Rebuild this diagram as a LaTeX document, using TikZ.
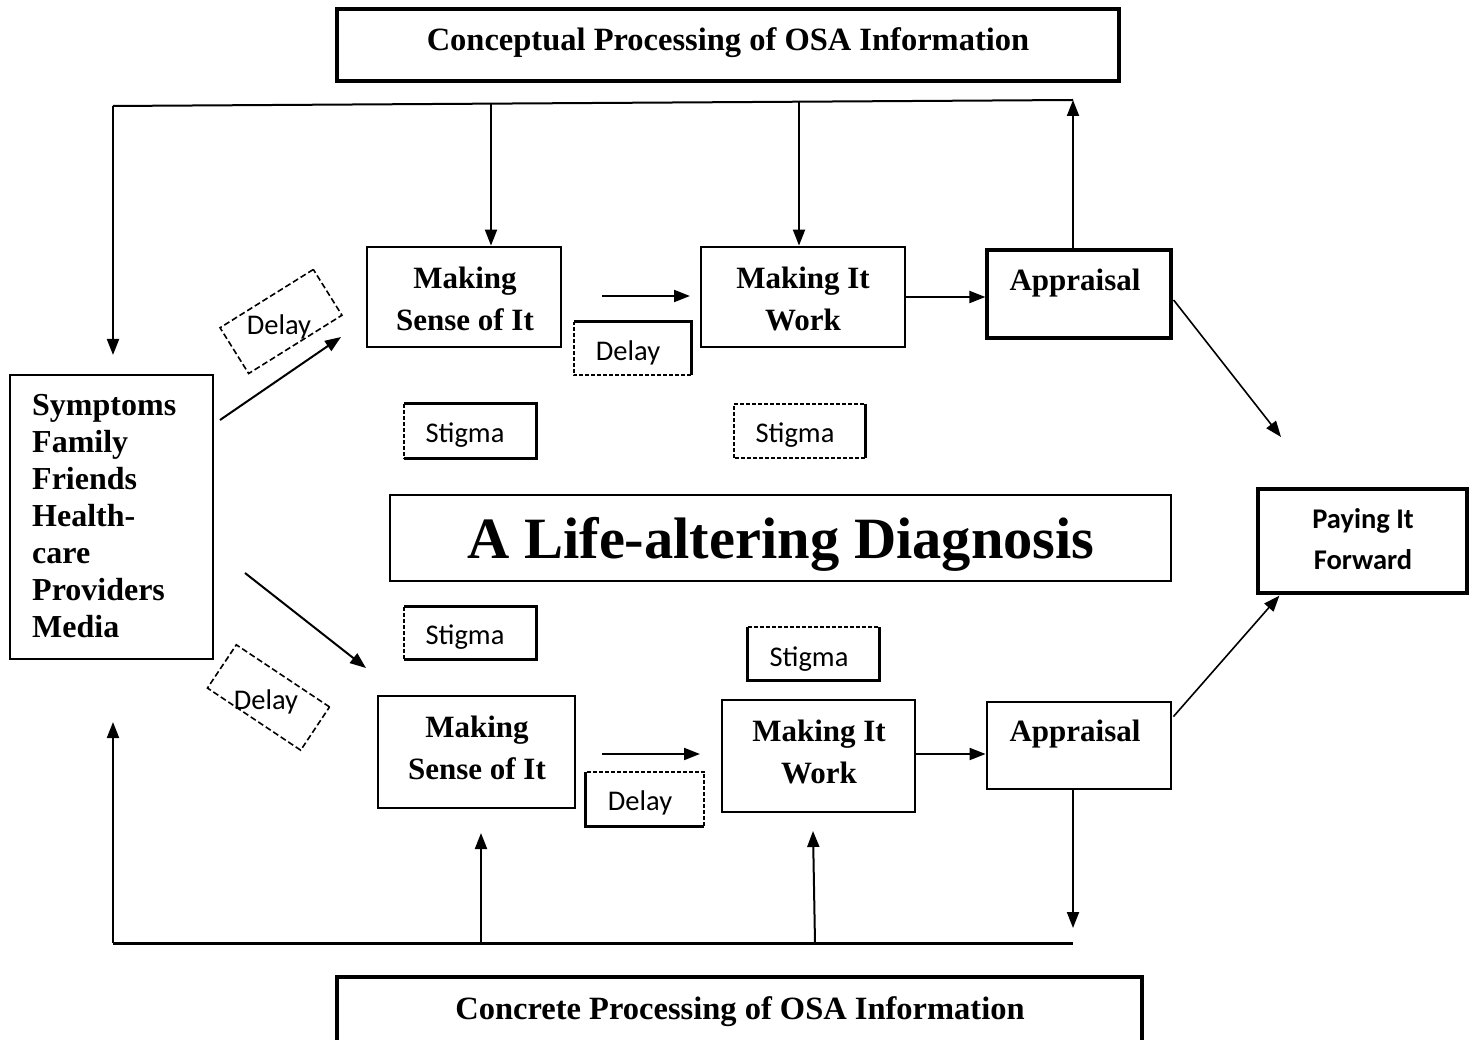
\documentclass[tikz,border=0pt]{standalone}
\usepackage{fontspec}
\setmainfont{Liberation Serif}
\newfontfamily\carl{Carlito}
\usetikzlibrary{arrows.meta,calc}
\begin{document}
\begin{tikzpicture}[x=1pt,y=-1pt,
  box/.style={draw, line width=2.8pt, inner sep=0pt},
  plain/.style={inner sep=0pt},
  serifb/.style={font=\bfseries\fontsize{31}{42}\selectfont, align=center, inner sep=0pt},
  headb/.style={font=\bfseries\fontsize{32.5}{42}\selectfont, inner sep=0pt},
  sansl/.style={font=\carl\fontsize{28.5}{34}\selectfont, inner sep=0pt},
  sansb/.style={font=\carl\bfseries\fontsize{28.5}{41}\selectfont, align=center, inner sep=0pt},
  arr/.style={line width=2pt, -{Triangle[length=16pt,width=12pt]}},
  solidside/.style={line width=2.8pt},
  dashside/.style={line width=2.2pt, dash pattern=on 4pt off 2pt},
  rotdash/.style={draw, line width=1.6pt, dash pattern=on 6pt off 3pt, inner sep=0pt}
]
\useasboundingbox (0,0) rectangle (1475,1040);

% header / footer boxes
\node[box, line width=3.2pt, minimum width=782pt, minimum height=72pt] (concbox) at (728,45) {};
\node[headb] (conct) at (728,43) {Conceptual Processing of OSA Information};
\node[box, line width=3.2pt, minimum width=805pt, minimum height=80pt] (concrbox) at (739.5,1017) {};
\node[headb] (concrt) at (740,1012) {Concrete Processing of OSA Information};

% main boxes
\node[box, minimum width=194pt, minimum height=100pt] (ms1) at (464,297) {};
\node[serifb] (ms1t) at (465,299) {Making\\Sense of It};
\node[box, minimum width=204pt, minimum height=100pt] (mw1) at (803,297) {};
\node[serifb] (mw1t) at (803,299) {Making It\\Work};
\node[box, line width=3.2pt, minimum width=184pt, minimum height=88pt] (ap1) at (1079,294) {};
\node[serifb] (ap1t) at (1075,283) {Appraisal};

\node[box, minimum width=197pt, minimum height=112pt] (ms2) at (476.5,752) {};
\node[serifb] (ms2t) at (477,748) {Making\\Sense of It};
\node[box, minimum width=193pt, minimum height=112pt] (mw2) at (818.5,756) {};
\node[serifb] (mw2t) at (819,752) {Making It\\Work};
\node[box, minimum width=184pt, minimum height=87pt] (ap2) at (1079,745.5) {};
\node[serifb] (ap2t) at (1075,734) {Appraisal};

\node[box, minimum width=203pt, minimum height=284pt] (sym) at (111.5,517) {};
\node[font=\bfseries\fontsize{32}{37}\selectfont, align=left, inner sep=0pt, anchor=north west] (symt) at (32,394)
  {Symptoms\\Family\\Friends\\Health-\\care\\Providers\\Media};

\node[box, minimum width=781pt, minimum height=86pt] (big) at (780.5,538) {};
\node[font=\bfseries\fontsize{58.5}{64}\selectfont, inner sep=0pt] (bigt) at (781,544) {A Life-altering Diagnosis};

\node[box, line width=3.2pt, minimum width=209pt, minimum height=104pt] (pay) at (1362.5,541) {};
\node[sansb] (payt) at (1363,539) {Paying It\\Forward};

% stigma boxes
\node[plain, minimum width=132pt, minimum height=54pt] (st1) at (470,431) {};
\draw[solidside] (st1.south west) -- (st1.south east) -- (st1.north east) -- (st1.north west);
\draw[dashside] (st1.north west) -- (st1.south west);
\node[sansl] (st1t) at (465,435) {Stigma};

\node[plain, minimum width=131pt, minimum height=54pt] (st2) at (799.5,431) {};
\draw[solidside] (st2.north east) -- (st2.south east);
\draw[dashside] (st2.south east) -- (st2.south west) -- (st2.north west) -- (st2.north east);
\node[sansl] (st2t) at (795,435) {Stigma};

\node[plain, minimum width=132pt, minimum height=52pt] (st3) at (470,633) {};
\draw[solidside] (st3.south west) -- (st3.south east) -- (st3.north east) -- (st3.north west);
\draw[dashside] (st3.north west) -- (st3.south west);
\node[sansl] (st3t) at (465,637) {Stigma};

\node[plain, minimum width=131pt, minimum height=53pt] (st4) at (813.5,653.5) {};
\draw[solidside] (st4.north east) -- (st4.south east) -- (st4.south west) -- (st4.north west);
\draw[dashside] (st4.north west) -- (st4.north east);
\node[sansl] (st4t) at (809,659) {Stigma};

% delay boxes
\node[plain, minimum width=117pt, minimum height=53pt] (dl1) at (632.5,348.5) {};
\draw[solidside] (dl1.north west) -- (dl1.north east) -- (dl1.south east);
\draw[dashside] (dl1.south east) -- (dl1.south west) -- (dl1.north west);
\node[sansl] (dl1t) at (628,353) {Delay};

\node[plain, minimum width=118pt, minimum height=54pt] (dl2) at (645,799) {};
\draw[solidside] (dl2.north west) -- (dl2.south west) -- (dl2.south east);
\draw[dashside] (dl2.south east) -- (dl2.north east) -- (dl2.north west);
\node[sansl] (dl2t) at (640,803) {Delay};

\node[rotdash, minimum width=110pt, minimum height=54pt, rotate=32] (dr1) at (281,321.5) {};
\node[sansl] (dr1t) at (279,327) {Delay};
\node[rotdash, minimum width=112pt, minimum height=52pt, rotate=-33.7] (dr2) at (268.5,697.5) {};
\node[sansl] (dr2t) at (266,702) {Delay};

% feedback lines
\coordinate (tl) at (113,106);
\coordinate (tr) at (1073,100);
\coordinate (bl) at (113,943);
\coordinate (br) at (1073,943);
\draw[line width=2pt] (tl) -- (tr);
\draw[line width=3pt] (bl) -- (br);

\coordinate (symin) at (113,355);
\draw[arr] (tl) -- (symin);
\coordinate (d1) at ($(tl)!0.39375!(tr)$);
\coordinate (d2) at ($(tl)!0.71458!(tr)$);
\draw[arr] (d1) -- (d1 |- ms1.north);
\draw[arr] (d2) -- (d2 |- mw1.north);
\draw[arr] (ap1.north -| tr) -- (tr);

\draw[arr] (ap2.south -| br) -- ($(br)+(0,-15)$);
\coordinate (symup) at (113,722);
\draw[arr] (bl) -- (symup);
\coordinate (u1) at (481,943);
\coordinate (u1e) at (481,833);
\draw[arr] (u1) -- (u1e);
\coordinate (u2) at (815,943);
\coordinate (u2e) at (813,831);
\draw[arr] (u2) -- (u2e);

% horizontal flow arrows
\coordinate (h1s) at (602,296);
\coordinate (h1e) at (690,296);
\draw[arr] (h1s) -- (h1e);
\draw[arr] (mw1.east) -- (ap1.west |- mw1.east);
\coordinate (h2s) at (602,754);
\coordinate (h2e) at (700,754);
\draw[arr] (h2s) -- (h2e);
\draw[arr] (mw2.east |- 0,754) -- (ap2.west |- 0,754);

% symptoms arrows
\coordinate (s1s) at (220,420);
\coordinate (s1e) at (341,337);
\draw[arr] (s1s) -- (s1e);
\coordinate (s2s) at (245,573);
\coordinate (s2e) at (366,668);
\draw[arr] (s2s) -- (s2e);

% appraisal to paying it forward
\coordinate (pf1) at (1281,437);
\draw[arr, line width=1.6pt] ($(ap1.east)+(1,6)$) -- (pf1);
\draw[arr, line width=1.6pt] ($(ap2.north east)+(1,16)$) -- ($(pay.south west)+(23,1)$);
\end{tikzpicture}
\end{document}
